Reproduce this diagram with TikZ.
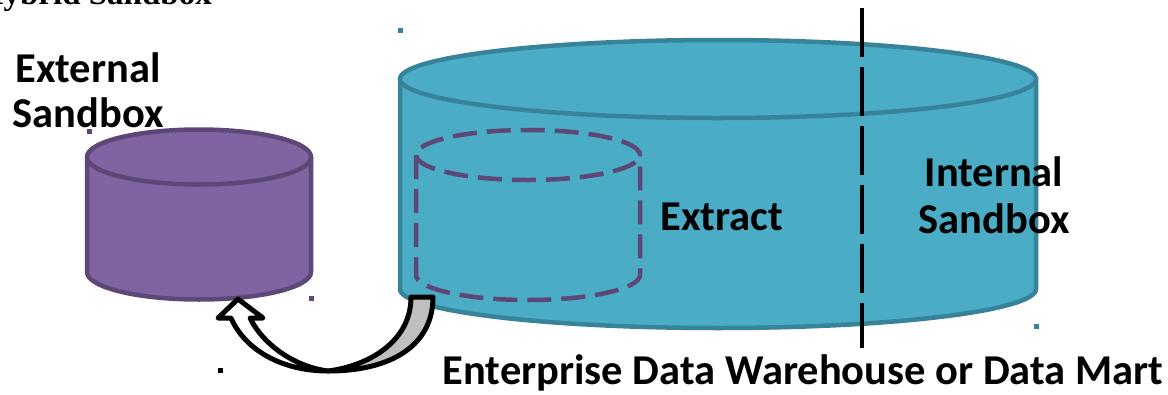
\documentclass[tikz,border=0pt]{standalone}
\usepackage{fontspec}
\setmainfont{Carlito}
\newfontfamily\titlefont{Liberation Serif}
\definecolor{cyanfill}{HTML}{4BACC6}
\definecolor{cyanline}{HTML}{36839A}
\definecolor{purpfill}{HTML}{8064A2}
\definecolor{purpline}{HTML}{5C4776}
\definecolor{arrowgray}{HTML}{BFBFBF}
\tikzset{
  lbl/.style={font=\fontsize{42.5}{46}\selectfont\bfseries, inner sep=0pt, anchor=base},
  dotmark/.style={inner sep=0pt, minimum size=5pt, fill=#1},
  arrowband/.style={draw=black, line width=5pt, line join=round},
}
\begin{document}
\begin{tikzpicture}[x=1pt,y=-1pt]
\useasboundingbox (0,0) rectangle (1168,394);
\clip (0,0) rectangle (1168,394);

% title (cut off at the top)
\node[inner sep=0pt, anchor=base east, font=\titlefont\fontsize{33}{36}\selectfont\bfseries] (title) at (212,4) {Hybrid Sandbox};

% big cylinder
\fill[cyanfill] (400,79) -- (400,289) arc[start angle=180,end angle=360,x radius=318pt,y radius=39pt] -- (1036,79) -- cycle;
\draw[cyanline, line width=4.5pt] (400,79) -- (400,289) arc[start angle=180,end angle=360,x radius=318pt,y radius=39pt] -- (1036,79);
\draw[cyanline, fill=cyanfill, line width=4.5pt] (718,79) ellipse[x radius=318pt, y radius=39pt];

% inner dashed cylinder
\draw[purpline, line width=4.5pt, dash pattern=on 24pt off 10pt] (528,155) ellipse[x radius=112pt, y radius=25pt];
\draw[purpline, line width=4.5pt, dash pattern=on 24pt off 10pt] (416,155) -- (416,275) arc[start angle=180,end angle=360,x radius=112pt,y radius=25pt] -- (640,155);

% vertical dashed divider
\coordinate (vt) at (862,8);
\coordinate (vb) at (862,348);
\draw[black, line width=4.5pt, dash pattern=on 49pt off 10pt] (vt) -- (vb);

% purple cylinder
\fill[purpfill] (87,157) -- (87,272) arc[start angle=180,end angle=360,x radius=112pt,y radius=27.5pt] -- (311,157) -- cycle;
\draw[purpline, line width=4.5pt] (87,157) -- (87,272) arc[start angle=180,end angle=360,x radius=112pt,y radius=27.5pt] -- (311,157);
\draw[purpline, fill=purpfill, line width=4.5pt] (199,157) ellipse[x radius=112pt, y radius=27.5pt];

% curved block arrow
\coordinate (tailL) at (411,297);
\coordinate (tailR) at (433,297);
\coordinate (bot) at (328,371);
\draw[arrowband, fill=arrowgray] (tailL) -- (tailR) .. controls (433,345) and (392,371) .. (bot) .. controls (368,366) and (411,342) .. (tailL) -- cycle;
\draw[arrowband, fill=white] (bot) .. controls (282,371) and (245,350) .. (231,318) -- (218,318) -- (238,299) -- (263,318) -- (250,318) .. controls (264,346) and (296,367) .. (bot) -- cycle;

% labels
\node[lbl] (ext1) at (88,82) {External};
\node[lbl] (ext2) at (88,127) {Sandbox};
\node[lbl] (extract) at (722,230) {Extract};
\node[lbl] (int1) at (994,186) {Internal};
\node[lbl] (int2) at (994,233) {Sandbox};
\node[lbl] (edw) at (803,384) {Enterprise Data Warehouse or Data Mart};

% small marks
\node[dotmark=cyanline] (d1) at (400,30) {};
\node[dotmark=purpline] (d2) at (89,131) {};
\node[dotmark=purpline] (d3) at (311,298) {};
\node[dotmark=black] (d4) at (220,370) {};
\node[dotmark=cyanline] (d5) at (1036,326) {};
\end{tikzpicture}
\end{document}
